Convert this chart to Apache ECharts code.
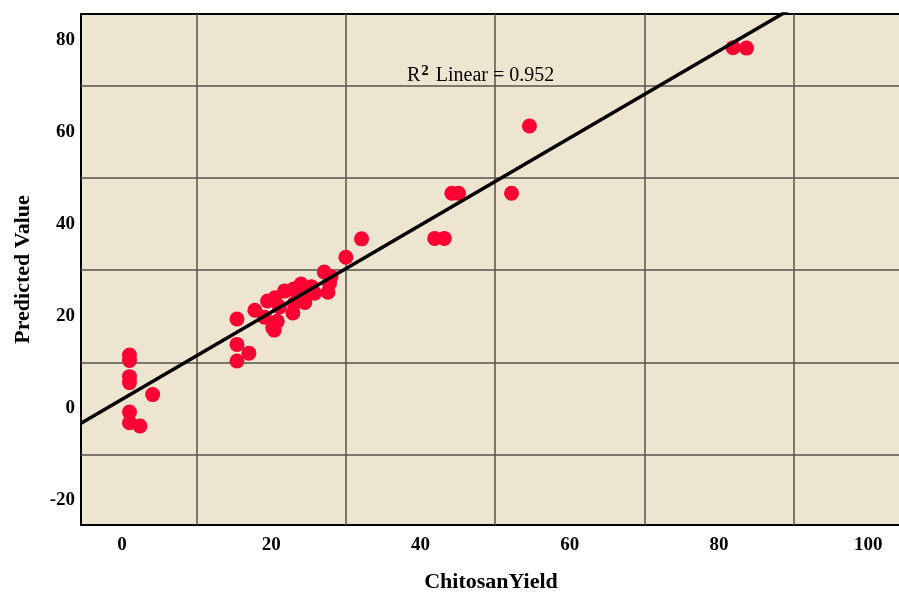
<!DOCTYPE html>
<html><head><meta charset="utf-8">
<script src="https://cdn.jsdelivr.net/npm/echarts@6/dist/echarts.min.js"></script>
<style>html,body{margin:0;padding:0;background:#fff}#c{width:899px;height:592px}</style>
</head><body><div id="c"></div>
<script>
// ChitosanYield (x) and Predicted Value (y)
const chitosanYield = [
  1.0, 1.0, 1.0, 1.0, 4.1, 1.0, 1.0, 2.4,
  15.4, 15.4, 17.0, 15.4,
  17.8, 19.1, 19.5, 20.2, 20.8, 21.1, 20.5, 21.8, 22.9, 23.1, 23.0, 24.0, 24.2, 24.5,
  25.4, 25.8, 27.1, 27.6, 27.8, 28.0, 20.4, 30.0, 32.1,
  41.9, 43.2, 44.2, 45.1, 52.2, 54.6, 81.9, 83.7
];
const predictedValue = [
  11.6, 10.4, 6.9, 5.6, 3.0, -0.8, -3.1, -3.8,
  19.4, 13.9, 12.0, 10.3,
  21.3, 19.8, 23.3, 17.5, 18.9, 22.0, 24.0, 25.5, 20.7, 22.8, 25.9, 27.0, 24.2, 23.0,
  26.4, 25.0, 29.6, 25.2, 27.1, 28.6, 17.0, 32.8, 36.8,
  36.9, 36.9, 46.7, 46.7, 46.7, 61.3, 78.3, 78.2
];
// Linear fit shown in the chart
const fitIntercept = 2.0;
const fitSlope = 0.945;
const rSquaredText = '0.952';
// Axis ranges and grid-line positions
const xRange = [-5.5, 104.4];
const yRange = [-25.3, 85.6];
const gridX = [10, 30, 50, 70, 90];
const gridY = [-10, 10, 30, 50, 70];

const points = chitosanYield.map((x, i) => [x, predictedValue[i]]);
const fitLine = xRange.map(x => [x, fitIntercept + fitSlope * x]);
const serif = 'Liberation Serif, Times New Roman, serif';

const chart = echarts.init(document.getElementById('c'), null, {renderer: 'canvas'});
chart.setOption({
  animation: false,
  backgroundColor: '#ffffff',
  title: {
    text: '{a|R}{s|2}{a| Linear = ' + rSquaredText + '}',
    left: 402, top: 59,
    textStyle: {
      rich: {
        a: {fontFamily: serif, fontSize: 20, color: '#000', fontWeight: 'normal', lineHeight: 24},
        s: {fontFamily: serif, fontSize: 15, color: '#000', verticalAlign: 'top', lineHeight: 14, padding: [0, 2, 0, 1]}
      }
    }
  },
  grid: {
    left: 81, top: 14, right: -2, bottom: 67,
    outerBoundsMode: 'none',
    show: true, backgroundColor: '#EDE5CF', borderColor: '#000', borderWidth: 2,
    containLabel: false
  },
  xAxis: {
    type: 'value', min: xRange[0], max: xRange[1],
    name: 'ChitosanYield', nameLocation: 'middle', nameGap: 46,
    nameTextStyle: {fontFamily: serif, fontSize: 22, fontWeight: 'bold', color: '#000'},
    axisLine: {show: false}, axisTick: {show: false}, splitLine: {show: false},
    axisLabel: {fontFamily: serif, fontSize: 19, fontWeight: 'bold', color: '#000', margin: 11,
      showMinLabel: false, showMaxLabel: false}
  },
  yAxis: {
    type: 'value', min: yRange[0], max: yRange[1],
    name: 'Predicted Value', nameLocation: 'middle', nameGap: 47, nameRotate: 90,
    nameTextStyle: {fontFamily: serif, fontSize: 22, fontWeight: 'bold', color: '#000'},
    axisLine: {show: false}, axisTick: {show: false}, splitLine: {show: false},
    axisLabel: {fontFamily: serif, fontSize: 19, fontWeight: 'bold', color: '#000', margin: 6,
      showMinLabel: false, showMaxLabel: false}
  },
  series: [
    {
      type: 'scatter', data: points, symbolSize: 15, z: 2,
      itemStyle: {color: '#FF0033', opacity: 1},
      markLine: {
        z: 1, silent: true, symbol: ['none', 'none'], label: {show: false},
        lineStyle: {color: '#55524b', width: 1.5, type: 'solid'},
        emphasis: {disabled: true},
        data: gridX.map(v => ({xAxis: v})).concat(gridY.map(v => ({yAxis: v})))
      }
    },
    {
      type: 'line', data: fitLine, showSymbol: false, symbol: 'none', z: 3,
      lineStyle: {color: '#000', width: 3.5}, clip: true
    }
  ]
});
</script></body></html>
